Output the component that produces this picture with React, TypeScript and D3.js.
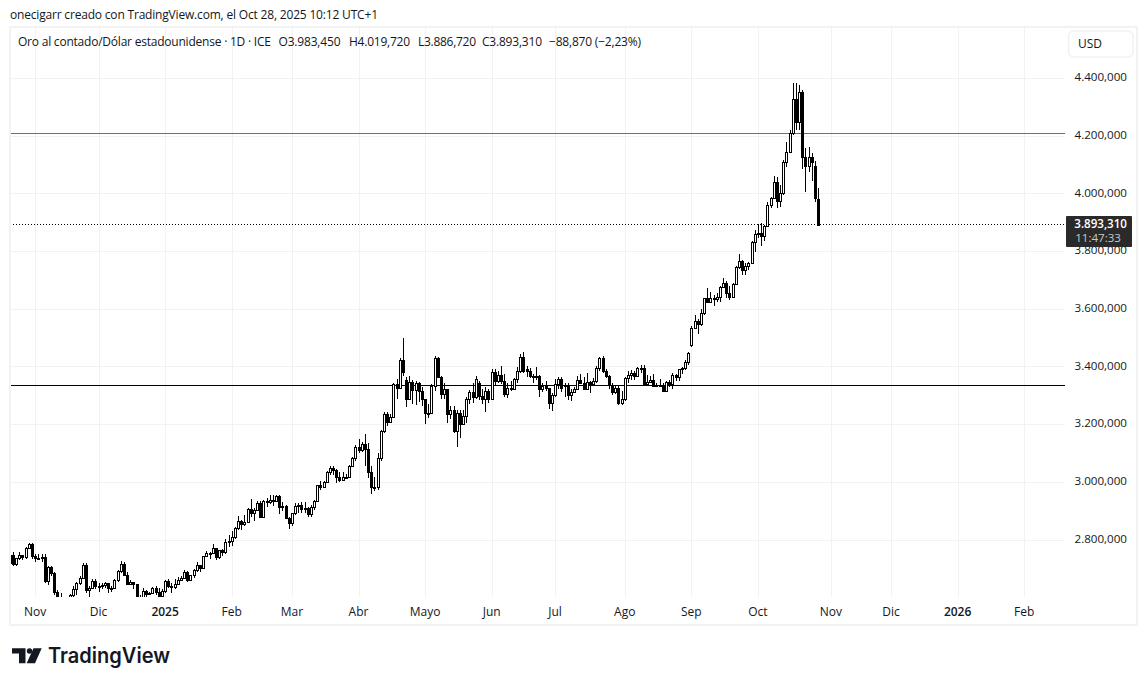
import React from "react";
import * as d3 from "d3";

type Bar = number[]; // open, high, low, close

const oct24: Bar[] = [[2720,2749,2708,2748],[2748,2758,2710,2717],[2717,2738,2710,2736],[2736,2759,2730,2747],[2747,2749,2731,2742],[2742,2775,2735,2774],[2774,2790,2770,2787],[2787,2790,2733,2743]];
const nov24: Bar[] = [[2743,2750,2724,2736],[2736,2751,2733,2736],[2736,2750,2725,2742],[2742,2750,2652,2659],[2659,2710,2643,2706],[2706,2710,2675,2684],[2684,2688,2610,2619],[2619,2627,2590,2598],[2598,2618,2573,2573],[2573,2581,2537,2565],[2565,2575,2550,2563],[2563,2612,2563,2611],[2611,2640,2600,2631],[2631,2655,2610,2650],[2650,2675,2645,2669],[2669,2721,2665,2715],[2715,2722,2615,2625],[2625,2640,2603,2632],[2632,2665,2630,2657],[2657,2665,2630,2642]];
const dec24: Bar[] = [[2642,2651,2621,2639],[2639,2650,2630,2643],[2643,2656,2632,2650],[2650,2650,2617,2632],[2632,2640,2620,2633],[2633,2664,2630,2660],[2660,2697,2654,2694],[2694,2726,2685,2718],[2718,2725,2675,2680],[2680,2690,2645,2648],[2648,2662,2644,2653],[2653,2655,2630,2646],[2646,2648,2580,2586],[2586,2610,2583,2594],[2594,2632,2582,2622],[2622,2625,2600,2612],[2612,2620,2610,2617],[2617,2638,2615,2634],[2634,2639,2610,2621],[2621,2634,2597,2606],[2606,2630,2600,2624]];
const jan25: Bar[] = [[2624,2660,2618,2658],[2658,2665,2635,2640],[2640,2650,2615,2636],[2636,2665,2630,2649],[2649,2671,2645,2662],[2662,2675,2658,2670],[2670,2696,2665,2690],[2690,2692,2656,2663],[2663,2680,2662,2677],[2677,2698,2670,2696],[2696,2723,2690,2714],[2714,2715,2690,2703],[2703,2746,2702,2745],[2745,2763,2740,2755],[2755,2760,2735,2755],[2755,2785,2752,2771],[2771,2772,2730,2741],[2741,2767,2735,2764],[2764,2770,2745,2760],[2760,2803,2752,2794],[2794,2818,2775,2798]];
const feb25: Bar[] = [[2798,2830,2780,2811],[2811,2845,2805,2840],[2840,2882,2835,2866],[2866,2870,2835,2856],[2856,2887,2850,2861],[2861,2910,2860,2906],[2906,2942,2880,2895],[2895,2910,2865,2903],[2903,2935,2900,2929],[2929,2935,2878,2880],[2880,2938,2878,2935],[2935,2947,2915,2933],[2933,2955,2925,2939],[2939,2955,2918,2936],[2936,2956,2930,2952],[2952,2956,2890,2914],[2914,2930,2900,2917],[2917,2920,2873,2875],[2875,2880,2837,2858]];
const mar25: Bar[] = [[2858,2895,2850,2893],[2893,2928,2885,2918],[2918,2928,2895,2920],[2920,2930,2895,2908],[2908,2930,2892,2910],[2910,2915,2880,2890],[2890,2920,2880,2913],[2913,2940,2905,2935],[2935,2992,2930,2990],[2990,3005,2975,2984],[2984,3003,2983,3000],[3000,3038,3000,3037],[3037,3055,3025,3048],[3048,3058,3025,3042],[3042,3047,2999,3020],[3020,3035,3002,3008],[3008,3035,3006,3020],[3020,3030,3015,3019],[3019,3060,3015,3057],[3057,3087,3055,3083],[3083,3128,3075,3123]];
const apr25: Bar[] = [[3123,3149,3100,3113],[3113,3140,3105,3134],[3134,3168,3055,3114],[3114,3136,3015,3037],[3037,3055,2958,2982],[2982,3020,2970,2983],[2983,3100,2972,3083],[3083,3180,3075,3178],[3178,3245,3170,3235],[3235,3245,3195,3210],[3210,3235,3205,3227],[3227,3345,3225,3340],[3340,3358,3287,3327],[3327,3430,3325,3424],[3424,3500,3367,3381],[3354,3364,3262,3288],[3288,3368,3288,3349],[3349,3355,3270,3319],[3319,3350,3268,3344],[3344,3348,3277,3316],[3316,3330,3265,3288]];
const may25: Bar[] = [[3288,3290,3202,3239],[3239,3270,3222,3241],[3241,3340,3240,3334],[3334,3437,3318,3431],[3431,3433,3360,3364],[3364,3367,3290,3306],[3306,3345,3290,3325],[3325,3325,3205,3236],[3236,3265,3220,3250],[3250,3265,3170,3178],[3178,3252,3124,3240],[3240,3252,3155,3203],[3203,3250,3200,3230],[3230,3295,3205,3290],[3290,3320,3270,3314],[3314,3345,3275,3295],[3295,3367,3290,3357],[3343,3350,3285,3300],[3300,3325,3270,3288],[3288,3330,3245,3317],[3317,3325,3275,3289]];
const jun25: Bar[] = [[3289,3392,3285,3381],[3381,3392,3335,3352],[3352,3385,3345,3372],[3372,3403,3340,3352],[3352,3375,3295,3306],[3306,3345,3293,3326],[3326,3350,3318,3323],[3323,3362,3320,3357],[3357,3398,3345,3386],[3386,3446,3380,3433],[3433,3453,3380,3386],[3392,3403,3365,3384],[3384,3395,3362,3368],[3368,3375,3345,3368],[3368,3399,3355,3368],[3368,3372,3295,3322],[3322,3345,3312,3332],[3335,3350,3315,3326],[3326,3328,3255,3274],[3274,3310,3248,3303]];
const jul25: Bar[] = [[3303,3358,3295,3340],[3340,3365,3325,3357],[3357,3366,3312,3326],[3337,3345,3296,3336],[3336,3345,3285,3303],[3303,3325,3282,3313],[3313,3330,3310,3325],[3325,3370,3320,3355],[3355,3375,3340,3344],[3344,3366,3320,3325],[3325,3377,3320,3347],[3347,3350,3310,3339],[3339,3360,3335,3350],[3350,3402,3345,3397],[3397,3433,3385,3431],[3431,3438,3380,3387],[3387,3393,3360,3368],[3368,3373,3325,3337],[3337,3345,3302,3314],[3314,3333,3305,3327],[3327,3334,3268,3275],[3275,3315,3268,3290]];
const aug25: Bar[] = [[3290,3365,3281,3363],[3363,3385,3345,3373],[3373,3390,3355,3380],[3380,3385,3355,3369],[3369,3398,3365,3396],[3396,3405,3380,3397],[3397,3405,3340,3342],[3342,3372,3335,3348],[3348,3370,3345,3356],[3356,3375,3330,3335],[3335,3345,3330,3336],[3336,3358,3330,3332],[3332,3345,3312,3315],[3315,3350,3312,3347],[3347,3353,3330,3339],[3339,3378,3322,3372],[3372,3376,3350,3365],[3365,3394,3350,3393],[3393,3398,3375,3397],[3397,3423,3390,3417],[3417,3452,3405,3447]];
const sep25: Bar[] = [[3476,3540,3470,3534],[3534,3580,3530,3560],[3560,3565,3514,3548],[3548,3600,3540,3586],[3586,3640,3580,3638],[3638,3675,3620,3624],[3624,3660,3620,3640],[3640,3648,3612,3634],[3634,3655,3625,3643],[3643,3680,3625,3678],[3678,3707,3672,3690],[3690,3697,3640,3657],[3657,3680,3630,3643],[3643,3690,3640,3686],[3686,3749,3685,3745],[3745,3791,3738,3766],[3766,3770,3717,3736],[3736,3760,3720,3750],[3750,3762,3735,3759],[3759,3835,3755,3832],[3832,3874,3797,3860]];
const oct25: Bar[] = [[3860,3895,3845,3865],[3865,3897,3820,3855],[3855,3890,3835,3888],[3888,3973,3886,3961],[3961,3990,3950,3985],[3985,4061,3983,4040],[4040,4058,3949,3976],[3976,4030,3955,4001],[4001,4117,3995,4110],[4110,4180,4094,4143],[4143,4221,4140,4209],[4209,4383,4204,4327],[4327,4383,4222,4250],[4250,4378,4220,4354],[4354,4360,4085,4126],[4126,4160,4007,4096],[4096,4161,4075,4126],[4126,4142,4045,4111],[4096,4115,3970,3984],[3983.45,4019.72,3886.72,3893.31]];

const bars: Bar[] = [...oct24, ...nov24, ...dec24, ...jan25, ...feb25, ...mar25, ...apr25, ...may25, ...jun25, ...jul25, ...aug25, ...sep25, ...oct25];

const priceTicks = [4400, 4200, 4000, 3800, 3600, 3400, 3200, 3000, 2800];
const timeLabels = ["Nov", "Dic", "2025", "Feb", "Mar", "Abr", "Mayo", "Jun", "Jul", "Ago", "Sep", "Oct", "Nov", "Dic", "2026", "Feb"];
const timeIndex = [8, 28, 49, 70, 89, 110, 131, 152, 172, 194, 215, 236, 259, 278, 299, 320];
const boldLabels = ["2025", "2026"];
const legendParts = ["O3.983,450", "H4.019,720", "L3.886,720", "C3.893,310", "−88,870 (−2,23%)"];
const legendX = [278.5, 349, 418, 482, 549];
const legendW = [62, 61, 58, 60, 92];
const levelRed = 4209;
const levelBlack = 3337;
const lastPrice = 3893.31;

const FONT = "'Open Sans', 'Noto Sans', sans-serif";
const INK = "#131722";
const GRID = "#f2f2f3";

const x = d3.scaleLinear().domain([0, 255]).range([10.3, 818.65]);
const y = d3.scaleLinear().domain([2800, 4400]).range([540, 78.3]);
const locale = d3.formatLocale({ decimal: ",", thousands: ".", grouping: [3], currency: ["", ""] });
const fmt = locale.format(",.3f");

export default function App() {
  const left = 10, right = 1065, top = 27, bottom = 597;
  const lastY = y(lastPrice);
  return (
    <svg width={1147} height={686} style={{ position: "absolute", left: 0, top: 0, background: "#fff" }} fontFamily={FONT}>
      <defs>
        <clipPath id="pane"><rect x={left + 1} y={top + 1} width={right - left - 1} height={bottom - top - 1} /></clipPath>
      </defs>
      <text x={10} y={18.5} fontSize={12} fill={INK} textLength={368} lengthAdjust="spacing">onecigarr creado con TradingView.com, el Oct 28, 2025 10:12 UTC+1</text>
      <rect x={10} y={27} width={1127} height={598} fill="none" stroke={GRID} strokeWidth={2} />
      <g shapeRendering="crispEdges">
        {priceTicks.map((p) => <line key={p} x1={left} x2={right} y1={Math.floor(y(p)) + 0.5} y2={Math.floor(y(p)) + 0.5} stroke={GRID} />)}
        {timeIndex.map((t, i) => <line key={i} x1={Math.floor(x(t)) + 0.5} x2={Math.floor(x(t)) + 0.5} y1={top} y2={bottom} stroke={GRID} />)}
      </g>
      <g clipPath="url(#pane)" shapeRendering="crispEdges">
        <line x1={left} x2={right} y1={Math.floor(y(levelRed)) + 0.5} y2={Math.floor(y(levelRed)) + 0.5} stroke="#f23645" />
        <line x1={left} x2={right} y1={Math.floor(y(levelBlack)) + 0.5} y2={Math.floor(y(levelBlack)) + 0.5} stroke="#000" />
        <line x1={left} x2={right} y1={Math.floor(lastY) + 0.5} y2={Math.floor(lastY) + 0.5} stroke="#000" strokeDasharray="1 2" />
        {bars.map((b, i) => {
          const [o, h, l, c] = b;
          const cx = Math.floor(x(i));
          const yt = Math.round(y(Math.max(o, c)));
          const yb = Math.round(y(Math.min(o, c)));
          const ht = Math.max(yb - yt, 1);
          return (
            <g key={i}>
              <rect x={cx} y={y(h)} width={1} height={y(l) - y(h)} fill="#000" />
              <rect x={cx - 1} y={yt} width={3} height={ht + 1} fill="#000" />
              {c >= o && ht >= 2 && <rect x={cx} y={yt + 1} width={1} height={ht - 1} fill="#fff" />}
            </g>
          );
        })}
      </g>
      <text x={18} y={46} fontSize={12} fill={INK} textLength={253} lengthAdjust="spacing">Oro al contado/Dólar estadounidense · 1D · ICE</text>
      {legendParts.map((t, i) => <text key={i} x={legendX[i]} y={46} fontSize={12} fill={INK} textLength={legendW[i]} lengthAdjust="spacing">{t}</text>)}
      {priceTicks.map((p) => <text key={p} x={1127} y={y(p) + 2.8} textAnchor="end" fontSize={11.6} fill={INK}>{fmt(p)}</text>)}
      {timeLabels.map((t, i) => <text key={i} x={x(timeIndex[i]) - 0.5} y={615.5} textAnchor="middle" fontSize={12} fontWeight={boldLabels.includes(t) ? 600 : 400} fill={INK}>{t}</text>)}
      <rect x={1068.5} y={31} width={64.5} height={26} rx={5} fill="#fff" stroke={GRID} strokeWidth={1.5} />
      <text x={1078} y={48} fontSize={12} fill={INK}>USD</text>
      <rect x={1066} y={216} width={66} height={31} rx={1} fill="#2a2a2a" />
      <text x={1127} y={228} textAnchor="end" fontSize={11.6} fontWeight={600} fill="#fff">{fmt(lastPrice)}</text>
      <text x={1121} y={242} textAnchor="end" fontSize={11.6} fill="#c8c8c8">11:47:33</text>
      <g fill="#131722">
        <path d="M12 648.3H25.5V663.3H19V653.5H12Z" />
        <circle cx={29.5} cy={651} r={2.7} />
        <path d="M33.5 648.3H41.7L35 663.3H26.7Z" />
      </g>
      <text x={48} y={663} fontSize={21} fontWeight={600} fill="#131722" fontFamily="Inter, Roboto, sans-serif" textLength={122} lengthAdjust="spacingAndGlyphs">TradingView</text>
    </svg>
  );
}
